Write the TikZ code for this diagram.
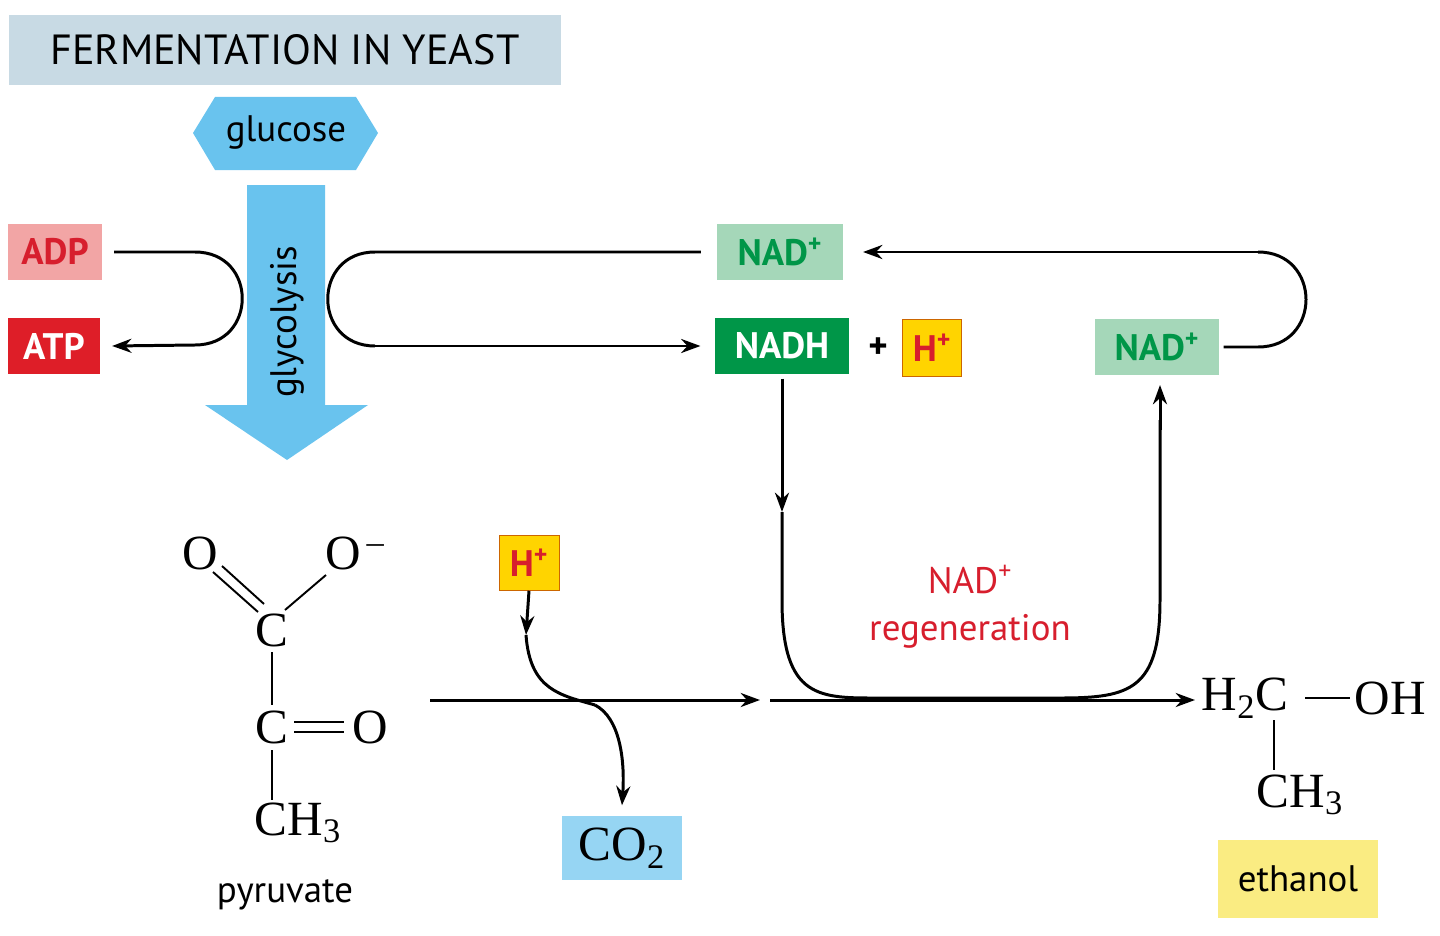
\documentclass[tikz,border=0pt]{standalone}
\usepackage{fontspec}
\setmainfont{Liberation Serif}
\newfontfamily\lab{PT Sans}
\usetikzlibrary{arrows.meta}
\definecolor{titlebg}{RGB}{200,218,228}
\definecolor{skyblue}{RGB}{105,195,238}
\definecolor{adpbg}{RGB}{242,165,165}
\definecolor{atpbg}{RGB}{222,30,40}
\definecolor{nadbg}{RGB}{165,215,185}
\definecolor{nadhbg}{RGB}{0,150,72}
\definecolor{hbg}{RGB}{255,212,0}
\definecolor{ethbg}{RGB}{250,236,130}
\definecolor{txgreen}{RGB}{0,150,72}
\definecolor{txred}{RGB}{215,30,45}
\tikzset{
  box/.style={inner sep=0pt,minimum height=57pt*0.567,font=\lab\fontsize{21}{21}\selectfont},
  bbox/.style={box,font=\lab\bfseries\fontsize{21}{21}\selectfont},
  chem/.style={inner sep=0pt,font=\fontsize{28}{28}\selectfont},
  flow/.style={line width=1.7pt,-{Stealth[length=11pt,width=8pt]}},
  flowp/.style={line width=1.7pt},
}
\begin{document}
\begin{tikzpicture}[x=0.02cm,y=-0.02cm]
\useasboundingbox (0,0) rectangle (1440,936);
% title
\node[fill=titlebg,minimum width=554*0.567pt,minimum height=70*0.567pt,inner sep=0pt,font=\lab\fontsize{24}{24}\selectfont] (title) at (285,50) {FERMENTATION IN YEAST};
% glucose and glycolysis
\fill[skyblue] (193,133) -- (215,97) -- (356,97) -- (378,133) -- (356,170) -- (215,170) -- cycle;
\node[font=\lab\fontsize{21}{21}\selectfont] (glucose) at (286,132) {glucose};
\fill[skyblue] (247,185) -- (325,185) -- (325,405) -- (368,405) -- (287,460) -- (205,405) -- (247,405) -- cycle;
\node[rotate=90,font=\lab\fontsize{21}{21}\selectfont] (glyc) at (287,322) {glycolysis};
% ADP / ATP
\node[bbox,fill=adpbg,text=txred,minimum width=94*0.567pt] (adp) at (55,252) {ADP};
\node[bbox,fill=atpbg,text=white,minimum width=92*0.567pt] (atp) at (54,346) {ATP};
\coordinate (a1) at (195,252);
\coordinate (a2) at (195,345);
\draw[flowp] ([xshift=12*0.567pt]adp.east) -- (a1) .. controls (258,252) and (258,345) .. (a2);
\draw[flow] (a2) -- ([xshift=12*0.567pt]atp.east);
% NAD boxes
\node[bbox,fill=nadbg,text=txgreen,minimum width=126*0.567pt] (nadt) at (780,252) {NAD\textsuperscript{+}};
\node[bbox,fill=nadhbg,text=white,minimum width=135*0.567pt] (nadh) at (782,346) {NADH};
\node[font=\lab\bfseries\fontsize{21}{21}\selectfont] (plus) at (878,348) {+};
\node[bbox,fill=hbg,text=txred,minimum width=59*0.567pt,draw=orange!80!black,line width=0.4pt] (h1) at (932,348) {H\textsuperscript{+}};
\node[bbox,fill=nadbg,text=txgreen,minimum width=125*0.567pt] (nadr) at (1157,347) {NAD\textsuperscript{+}};
% NAD loop at glycolysis
\coordinate (b1) at (375,252);
\coordinate (b2) at (375,346);
\draw[flowp] ([xshift=-16*0.567pt]nadt.west) -- (b1) .. controls (312,252) and (312,346) .. (b2);
\draw[flow] (b2) -- ([xshift=-14*0.567pt]nadh.west);
% NAD loop right
\coordinate (c1) at (1258,347);
\coordinate (c2) at (1258,252);
\draw[flowp] ([xshift=4*0.567pt]nadr.east) -- (c1) .. controls (1322,347) and (1322,252) .. (c2);
\draw[flow] (c2) -- ([xshift=20*0.567pt]nadt.east);
% regeneration U
\coordinate (d1) at (782,512);
\coordinate (d2) at (1160,385);
\draw[flow] ([yshift=-4*0.567pt]nadh.south) -- (d1);
\draw[flowp] (d1) -- (782,600) .. controls (782,700) and (820,698) .. (880,698) -- (1060,698) .. controls (1130,698) and (1160,690) .. (1160,600) -- (1160,420);
\draw[flow] (1160,430) -- (d2);
\node[text=txred,font=\lab\fontsize{21}{21}\selectfont,align=center] (regen) at (970,607) {NAD\textsuperscript{+}\\[6pt]regeneration};
% pyruvate
\node[chem] (o1) at (200,553) {O};
\node[chem] (o2) at (355,553) {O\textsuperscript{\,--}};
\node[chem] (c3) at (272,630) {C};
\node[chem] (c4) at (272,727) {C};
\node[chem] (o3) at (370,727) {O};
\node[chem] (ch3) at (298,823) {CH\textsubscript{3}};
\node[font=\lab\fontsize{21}{21}\selectfont] (pyr) at (285,895) {pyruvate};
\draw[line width=1.1pt] (213,572) -- (258,612);
\draw[line width=1.1pt] (222,566) -- (264,604);
\draw[line width=1.1pt] (285,610) -- (326,575);
\draw[line width=1.1pt] (272,652) -- (272,705);
\draw[line width=1.1pt] (294,722) -- (344,722);
\draw[line width=1.1pt] (294,732) -- (344,732);
\draw[line width=1.1pt] (272,750) -- (272,800);
% main reaction arrows
\coordinate (m1) at (430,700);
\coordinate (m2) at (760,700);
\coordinate (m3) at (770,700);
\coordinate (m4) at (1195,700);
\draw[flow] (m1) -- (m2);
\draw[flow] (m3) -- (m4);
% H+ and CO2
\node[bbox,fill=hbg,text=txred,minimum width=60*0.567pt,minimum height=55*0.567pt,draw=orange!80!black,line width=0.4pt] (h2) at (529,563) {H\textsuperscript{+}};
\node[chem,fill=skyblue!70,minimum width=121*0.567pt,minimum height=65*0.567pt] (co2) at (622,848) {CO\textsubscript{2}};
\coordinate (e1) at (526,635);
\draw[flow] (h2.south) -- (e1);
\draw[flowp] (e1) .. controls (530,690) and (560,695) .. (595,705);
\draw[flow] (595,705) .. controls (620,718) and (625,760) .. ([yshift=10*0.567pt]co2.north);
% ethanol
\node[chem] (h2c) at (1245,698) {H\textsubscript{2}C};
\node[chem] (oh) at (1390,698) {OH};
\node[chem] (ch3b) at (1300,795) {CH\textsubscript{3}};
\draw[line width=1.1pt] (1305,698) -- (1350,698);
\draw[line width=1.1pt] (1274,720) -- (1274,770);
\node[box,fill=ethbg,minimum width=161*0.567pt,minimum height=78*0.567pt] (eth) at (1298,879) {ethanol};
\end{tikzpicture}
\end{document}
